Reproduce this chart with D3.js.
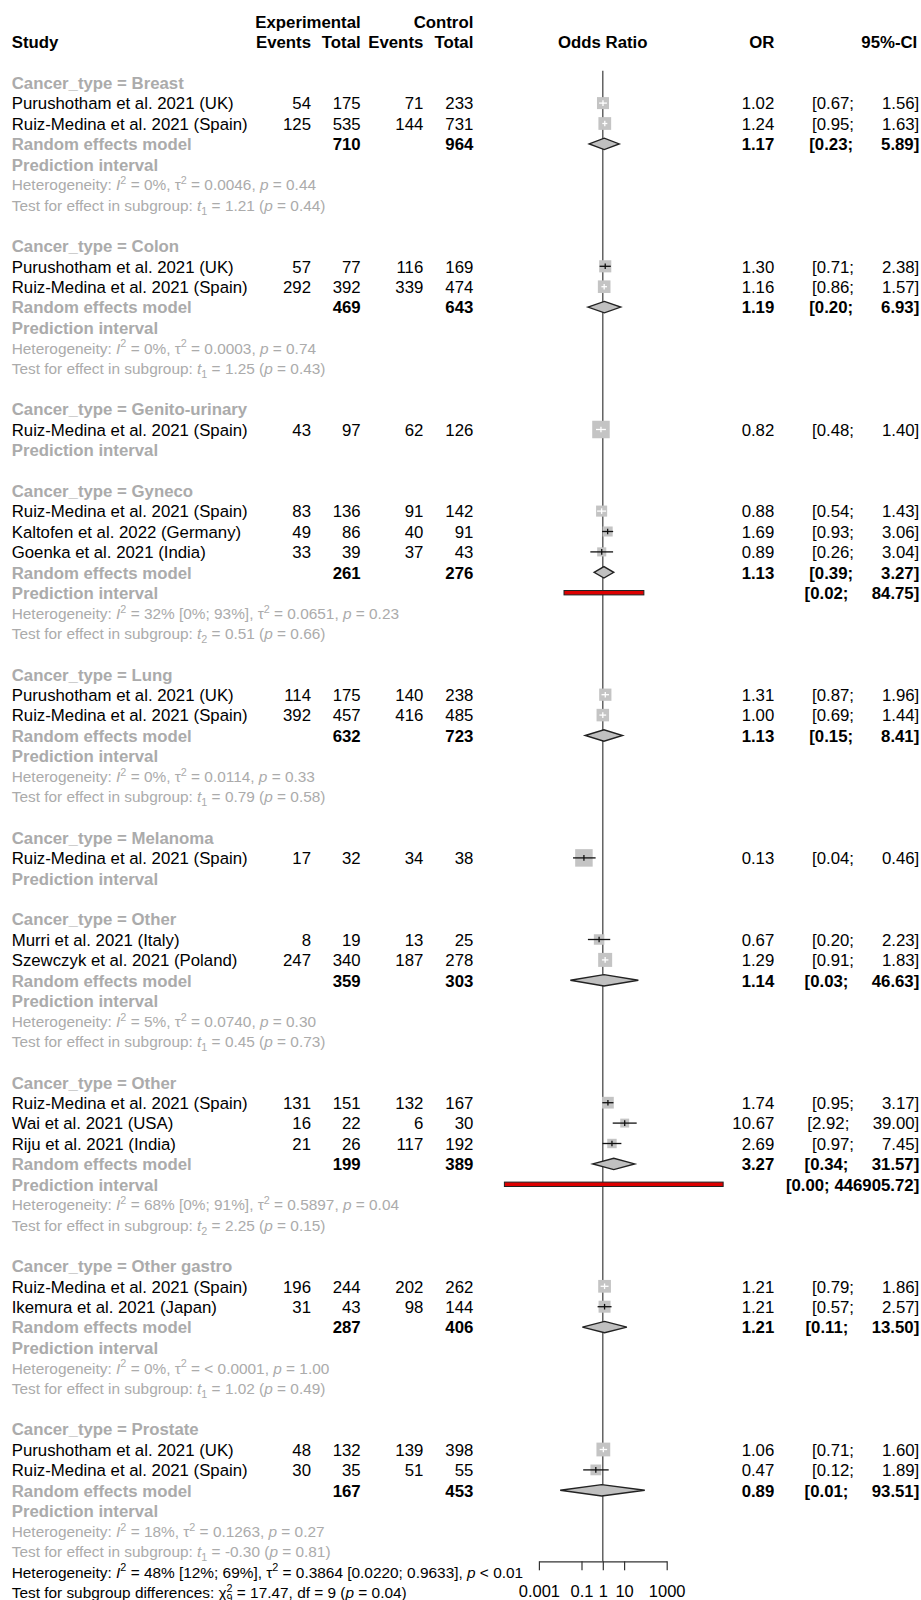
<!DOCTYPE html>
<html>
<head>
<meta charset="utf-8">
<script src="https://cdn.jsdelivr.net/npm/d3@7"></script>
<style>
  body { margin: 0; background: #fff; }
  svg text { font-family: "Liberation Sans", Arial, sans-serif; }
</style>
</head>
<body>
<div id="chart"></div>
<script>
// subgroups
const groupNames = ["Breast", "Colon", "Genito-urinary", "Gyneco", "Lung", "Melanoma",
                    "Other", "Other", "Other gastro", "Prostate"];
const groupExpTotal  = [710, 469, null, 261, 632, null, 359, 199, 287, 167];
const groupCtrlTotal = [964, 643, null, 276, 723, null, 303, 389, 406, 453];
const groupOR   = [1.17, 1.19, null, 1.13, 1.13, null, 1.14, 3.27, 1.21, 0.89];
const groupLow  = [0.23, 0.20, null, 0.39, 0.15, null, 0.03, 0.34, 0.11, 0.01];
const groupHigh = [5.89, 6.93, null, 3.27, 8.41, null, 46.63, 31.57, 13.50, 93.51];
const predLow   = [null, null, null, 0.0151, null, null, null, 0.000024, null, null];
const predHigh  = [null, null, null, 84.75, null, null, null, 446905.72, null, null];
const hetTexts = [
  "Heterogeneity: {I}^2 = 0%, τ^2 = 0.0046, {p} = 0.44",
  "Heterogeneity: {I}^2 = 0%, τ^2 = 0.0003, {p} = 0.74",
  null,
  "Heterogeneity: {I}^2 = 32% [0%; 93%], τ^2 = 0.0651, {p} = 0.23",
  "Heterogeneity: {I}^2 = 0%, τ^2 = 0.0114, {p} = 0.33",
  null,
  "Heterogeneity: {I}^2 = 5%, τ^2 = 0.0740, {p} = 0.30",
  "Heterogeneity: {I}^2 = 68% [0%; 91%], τ^2 = 0.5897, {p} = 0.04",
  "Heterogeneity: {I}^2 = 0%, τ^2 = < 0.0001, {p} = 1.00",
  "Heterogeneity: {I}^2 = 18%, τ^2 = 0.1263, {p} = 0.27"
];
const testTexts = [
  "Test for effect in subgroup: {t}_1 = 1.21 ({p} = 0.44)",
  "Test for effect in subgroup: {t}_1 = 1.25 ({p} = 0.43)",
  null,
  "Test for effect in subgroup: {t}_2 = 0.51 ({p} = 0.66)",
  "Test for effect in subgroup: {t}_1 = 0.79 ({p} = 0.58)",
  null,
  "Test for effect in subgroup: {t}_1 = 0.45 ({p} = 0.73)",
  "Test for effect in subgroup: {t}_2 = 2.25 ({p} = 0.15)",
  "Test for effect in subgroup: {t}_1 = 1.02 ({p} = 0.49)",
  "Test for effect in subgroup: {t}_1 = -0.30 ({p} = 0.81)"
];

// studies
const studyGroup = [0, 0, 1, 1, 2, 3, 3, 3, 4, 4, 5, 6, 6, 7, 7, 7, 8, 8, 9, 9];
const studyLabels = [
  "Purushotham et al. 2021 (UK)", "Ruiz-Medina et al. 2021 (Spain)",
  "Purushotham et al. 2021 (UK)", "Ruiz-Medina et al. 2021 (Spain)",
  "Ruiz-Medina et al. 2021 (Spain)",
  "Ruiz-Medina et al. 2021 (Spain)", "Kaltofen et al. 2022 (Germany)", "Goenka et al. 2021 (India)",
  "Purushotham et al. 2021 (UK)", "Ruiz-Medina et al. 2021 (Spain)",
  "Ruiz-Medina et al. 2021 (Spain)",
  "Murri et al. 2021 (Italy)", "Szewczyk et al. 2021 (Poland)",
  "Ruiz-Medina et al. 2021 (Spain)", "Wai et al. 2021 (USA)", "Riju et al. 2021 (India)",
  "Ruiz-Medina et al. 2021 (Spain)", "Ikemura et al. 2021 (Japan)",
  "Purushotham et al. 2021 (UK)", "Ruiz-Medina et al. 2021 (Spain)"
];
const expEvents  = [54, 125, 57, 292, 43, 83, 49, 33, 114, 392, 17, 8, 247, 131, 16, 21, 196, 31, 48, 30];
const expTotal   = [175, 535, 77, 392, 97, 136, 86, 39, 175, 457, 32, 19, 340, 151, 22, 26, 244, 43, 132, 35];
const ctrlEvents = [71, 144, 116, 339, 62, 91, 40, 37, 140, 416, 34, 13, 187, 132, 6, 117, 202, 98, 139, 51];
const ctrlTotal  = [233, 731, 169, 474, 126, 142, 91, 43, 238, 485, 38, 25, 278, 167, 30, 192, 262, 144, 398, 55];
const studyOR   = [1.02, 1.24, 1.30, 1.16, 0.82, 0.88, 1.69, 0.89, 1.31, 1.00, 0.13, 0.67, 1.29, 1.74, 10.67, 2.69, 1.21, 1.21, 1.06, 0.47];
const studyLow  = [0.67, 0.95, 0.71, 0.86, 0.48, 0.54, 0.93, 0.26, 0.87, 0.69, 0.04, 0.20, 0.91, 0.95, 2.92, 0.97, 0.79, 0.57, 0.71, 0.12];
const studyHigh = [1.56, 1.63, 2.38, 1.57, 1.40, 1.43, 3.06, 3.04, 1.96, 1.44, 0.46, 2.23, 1.83, 3.17, 39.00, 7.45, 1.86, 2.57, 1.60, 1.89];
const studyWeight = [47, 53, 48, 52, 100, 40, 33, 27, 49, 51, 100, 36, 64, 45, 26, 29, 53, 47, 62, 38];

// overall
const overallHet = "Heterogeneity: {I}^2 = 48% [12%; 69%], τ^2 = 0.3864 [0.0220; 0.9633], {p} < 0.01";
const overallTest = "Test for subgroup differences: χ^2_9 = 17.47, df = 9 ({p} = 0.04)";
const tickValues = [0.001, 0.1, 1, 10, 1000];
const tickLabels = ["0.001", "0.1", "1", "10", "1000"];

const width = 921, height = 1600;
const fs = 16.8, fsHet = 15.4;
const gray = "#ababab";

const svg = d3.select("#chart").append("svg")
    .attr("width", width)
    .attr("height", height)
    .style("background", "#fff");

// rows
const rows = [];
let r = 0;
groupNames.forEach((name, g) => {
  rows.push({type: "head", g: g, r: r++});
  const idx = d3.range(studyGroup.length).filter(i => studyGroup[i] === g);
  idx.forEach(i => rows.push({type: "study", s: i, r: r++}));
  if (idx.length > 1) rows.push({type: "rem", g: g, r: r++});
  rows.push({type: "pi", g: g, r: r++});
  if (hetTexts[g]) {
    rows.push({type: "het", g: g, r: r++});
    rows.push({type: "test", g: g, r: r++});
  }
  if (g < groupNames.length - 1) r++;
});
const lastRow = r;

const y = d3.scaleLinear().domain([0, 1]).range([82.7, 103.1]);
const x = d3.scaleLog().domain([0.001, 1000]).range([538.9, 666.7]);
const size = d3.scaleSqrt().domain([0, 100]).range([0, 17.5]);
const f2 = d3.format(".2f");

const col = {study: 11.7, ee: 311, et: 360.7, ce: 423.3, ct: 473.3, or: 774.3, ci: 919.3};

function ciText(lo, hi) {
  return "[" + f2(lo).padStart(4, " ") + "; " + f2(hi).padStart(9, " ") + "]";
}

function txt(xp, row, s, anchor, opts) {
  opts = opts || {};
  const sz = opts.size || fs;
  return svg.append("text")
    .attr("x", xp)
    .attr("y", y(row) + 0.37 * sz)
    .attr("text-anchor", anchor)
    .attr("font-size", sz)
    .attr("font-weight", opts.bold ? "bold" : "normal")
    .attr("fill", opts.fill || "#000")
    .attr("xml:space", "preserve")
    .style("white-space", "pre")
    .text(s);
}

function richText(xp, row, str, fsz, fill) {
  const t = svg.append("text")
    .attr("x", xp)
    .attr("y", y(row) + 0.37 * fsz)
    .attr("font-size", fsz)
    .attr("fill", fill)
    .attr("xml:space", "preserve")
    .style("white-space", "pre");
  const parts = str.split(/(\{[^}]*\}|\^\S|_\S)/).filter(p => p.length);
  let shift = 0, prevSup = false;
  parts.forEach(p => {
    let s = p, target = 0, sz = fsz, italic = false, dx = 0;
    if (p[0] === "{") { s = p.slice(1, -1); italic = true; }
    else if (p[0] === "^") { s = p.slice(1); target = -0.4 * fsz; sz = 0.7 * fsz; }
    else if (p[0] === "_") { s = p.slice(1); target = 0.26 * fsz; sz = 0.7 * fsz; if (prevSup) dx = -0.556 * sz; }
    const ts = t.append("tspan").text(s).attr("font-size", sz);
    if (target - shift !== 0) ts.attr("dy", target - shift);
    if (italic) ts.attr("font-style", "italic");
    if (dx) ts.attr("dx", dx);
    shift = target;
    prevSup = p[0] === "^";
  });
}

// column headers
txt(col.et, -3, "Experimental", "end", {bold: true});
txt(col.ct, -3, "Control", "end", {bold: true});
txt(col.study, -2, "Study", "start", {bold: true});
txt(col.ee, -2, "Events", "end", {bold: true});
txt(col.et, -2, "Total", "end", {bold: true});
txt(col.ce, -2, "Events", "end", {bold: true});
txt(col.ct, -2, "Total", "end", {bold: true});
txt(x(1), -2, "Odds Ratio", "middle", {bold: true});
txt(col.or, -2, "OR", "end", {bold: true});
txt(col.ci - 2, -2, "95%-CI", "end", {bold: true});

// reference line
svg.append("line")
    .attr("x1", x(1)).attr("x2", x(1))
    .attr("y1", y(-0.58)).attr("y2", y(lastRow - 0.52))
    .attr("stroke", "#4a4a4a")
    .attr("stroke-width", 1.3);

const plot = svg.append("g");

rows.forEach(d => {
  if (d.type === "head") {
    txt(col.study, d.r, "Cancer_type = " + groupNames[d.g], "start", {bold: true, fill: gray});
  } else if (d.type === "study") {
    const i = d.s;
    txt(col.study, d.r, studyLabels[i], "start");
    txt(col.ee, d.r, expEvents[i], "end");
    txt(col.et, d.r, expTotal[i], "end");
    txt(col.ce, d.r, ctrlEvents[i], "end");
    txt(col.ct, d.r, ctrlTotal[i], "end");
    txt(col.or, d.r, f2(studyOR[i]), "end");
    txt(col.ci, d.r, ciText(studyLow[i], studyHigh[i]), "end");

    const side = size(studyWeight[i]);
    const cx = x(studyOR[i]), cy = y(d.r);
    plot.append("rect")
        .attr("x", cx - side / 2).attr("y", cy - side / 2)
        .attr("width", side).attr("height", side)
        .attr("fill", "#c4c4c4");
    const x0 = x(studyLow[i]), x1 = x(studyHigh[i]);
    const lineCol = (x1 - x0) <= 0.85 * side ? "#fff" : "#111";
    plot.append("line")
        .attr("x1", x0).attr("x2", x1)
        .attr("y1", cy).attr("y2", cy)
        .attr("stroke", lineCol).attr("stroke-width", 1.3);
    plot.append("line")
        .attr("x1", cx).attr("x2", cx)
        .attr("y1", cy - 2.8).attr("y2", cy + 2.8)
        .attr("stroke", lineCol).attr("stroke-width", 1.3);
  } else if (d.type === "rem") {
    const g = d.g;
    txt(col.study, d.r, "Random effects model", "start", {bold: true, fill: gray});
    txt(col.et, d.r, groupExpTotal[g], "end", {bold: true});
    txt(col.ct, d.r, groupCtrlTotal[g], "end", {bold: true});
    txt(col.or, d.r, f2(groupOR[g]), "end", {bold: true});
    txt(col.ci, d.r, ciText(groupLow[g], groupHigh[g]), "end", {bold: true});
    const cy = y(d.r), h = 5.7;
    const pts = [[x(groupLow[g]), cy], [x(groupOR[g]), cy - h], [x(groupHigh[g]), cy], [x(groupOR[g]), cy + h]];
    plot.append("path")
        .attr("d", d3.line()(pts) + "Z")
        .attr("fill", "#c0c0c0")
        .attr("stroke", "#222")
        .attr("stroke-width", 1.4);
  } else if (d.type === "pi") {
    const g = d.g;
    txt(col.study, d.r, "Prediction interval", "start", {bold: true, fill: gray});
    if (predLow[g] != null) {
      txt(col.ci, d.r, ciText(predLow[g], predHigh[g]), "end", {bold: true});
      const x0 = x(predLow[g]), x1 = x(predHigh[g]);
      plot.append("rect")
          .attr("x", x0).attr("y", y(d.r) - 2.2)
          .attr("width", x1 - x0).attr("height", 4.4)
          .attr("fill", "#dd0000")
          .attr("stroke", "#222")
          .attr("stroke-width", 1);
    }
  } else if (d.type === "het") {
    richText(col.study, d.r, hetTexts[d.g], fsHet, gray);
  } else if (d.type === "test") {
    richText(col.study, d.r, testTexts[d.g], fsHet, gray);
  }
});

richText(col.study, lastRow, overallHet, fsHet, "#000");
richText(col.study, lastRow + 1, overallTest, fsHet, "#000");

// x axis
const axis = svg.append("g")
    .attr("transform", "translate(0," + y(lastRow - 0.52) + ")")
    .call(d3.axisBottom(x)
      .tickValues(tickValues)
      .tickFormat((d, i) => tickLabels[i])
      .tickSize(9)
      .tickSizeOuter(0)
      .tickPadding(15));
axis.select(".domain").attr("stroke", "#333").attr("stroke-width", 1.2);
axis.selectAll(".tick line").attr("stroke", "#333").attr("stroke-width", 1.2);
axis.selectAll(".tick text")
    .attr("fill", "#000")
    .attr("font-size", 16.5)
    .attr("font-family", "Liberation Sans, Arial, sans-serif");
</script>
</body>
</html>
